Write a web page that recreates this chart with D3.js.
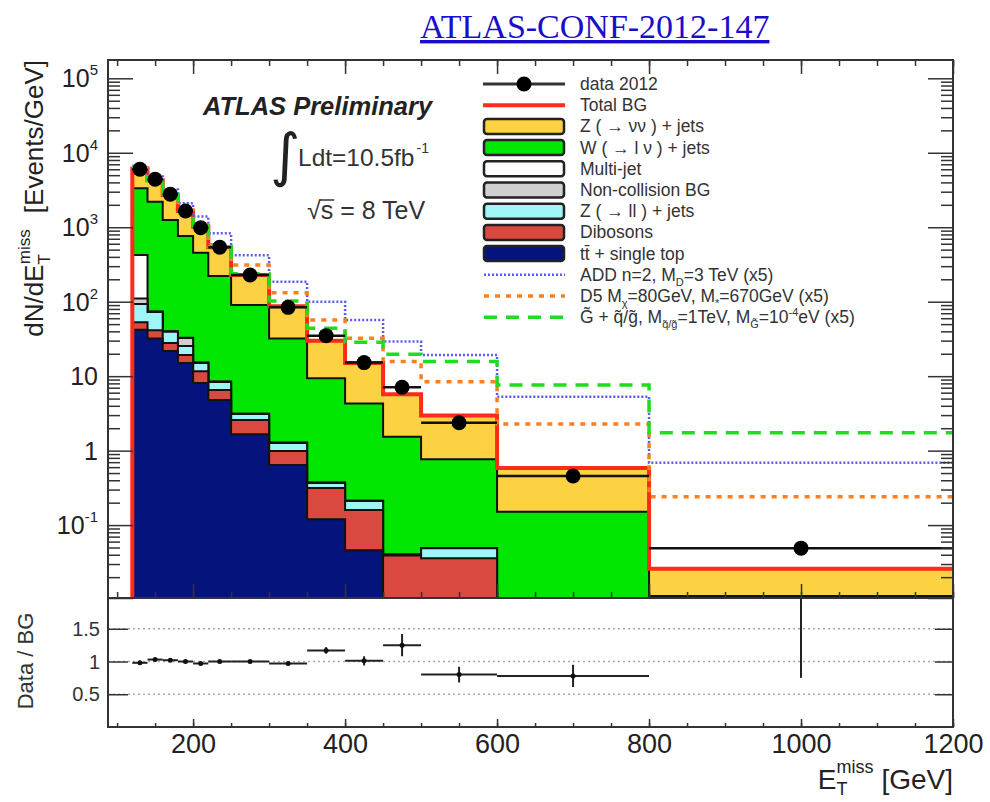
<!DOCTYPE html>
<html>
<head>
<meta charset="utf-8">
<script src="https://cdn.jsdelivr.net/npm/d3@7"></script>
<style>
body { margin: 0; background: #fff; }
svg { display: block; font-family: "Liberation Sans", Arial, sans-serif; }
</style>
</head>
<body>
<svg id="chart" width="990" height="802"></svg>
<script>
// bins in E_T^miss [GeV]
const binEdges = [120, 140, 160, 180, 200, 220, 250, 300, 350, 400, 450, 500, 600, 800, 1200];

// data 2012, events/GeV
const dataValues = [6000, 4400, 2770, 1650, 985, 538, 228, 84, 35, 15.2, 7.1, 2.37, 0.457, 0.049];

// background components (stacked bottom -> top)
const ttbar = [42, 32, 21.8, 15, 8.1, 4.8, 1.66, 0.64, 0.12, 0.046, 0.002, 0.001, 0.001, 0.0005];
const dibosons = [11, 9.5, 6.1, 4.2, 3.5, 1.7, 0.92, 0.35, 0.195, 0.114, 0.037, 0.035, 0.002, 0.0005];
const zll = [40, 31.5, 11.7, 6.2, 3.4, 1.85, 0.52, 0.28, 0.053, 0.051, 0.001, 0.013, 0.001, 0.0005];
const nonCollision = [17, 0.5, 0.2, 7.2, 0.1, 0.05, 0.02, 0.01, 0.002, 0.001, 0.0002, 0.0002, 0.0001, 0.0001];
const multijet = [314, 0.5, 0.2, 0.2, 0.1, 0.05, 0.02, 0.01, 0.002, 0.001, 0.0002, 0.0002, 0.0001, 0.0001];
const wjets = [2916, 2126, 1210, 729, 440, 212.6, 86.9, 30.7, 9.03, 4.09, 1.5, 0.717, 0.147, 0.0095];
const znunu = [2780, 2070, 1465, 888, 560, 317, 138, 55, 20.6, 10.7, 4.16, 2.19, 0.435, 0.0148];

// signal + BG curves (x5)
const addSignal = [6700, 4800, 3200, 2100, 1390, 830, 420, 186, 100, 57, 29.2, 19.2, 5.3, 0.69];
const d5Signal = [6250, 4370, 2800, 1710, 1060, 580, 311, 132, 56.8, 32.3, 15.7, 8.4, 2.28, 0.241];
const gmsbSignal = [6200, 4320, 2760, 1680, 1035, 552, 238, 102, 44, 28.5, 19.7, 15.7, 7.6, 1.74];

// ratio panel
const ratioValues = [0.98, 1.03, 1.02, 1.0, 0.97, 1.0, 1.0, 0.97, 1.17, 1.01, 1.25, 0.8, 0.78, 2.05];
const ratioErrors = [0.01, 0.01, 0.01, 0.01, 0.012, 0.012, 0.015, 0.02, 0.05, 0.07, 0.17, 0.12, 0.17, 1.3];

const xTickLabels = [200, 400, 600, 800, 1000, 1200];
const ratioTicks = [0.5, 1, 1.5];
const logExponents = [-1, 0, 1, 2, 3, 4, 5];

const stackKeys = ["ttbar", "dibosons", "zll", "nonCollision", "multijet", "wjets", "znunu"];
const stackColors = {
    ttbar: "#05137d",
    dibosons: "#d9493f",
    zll: "#a0f6f6",
    nonCollision: "#cfcfcf",
    multijet: "#ffffff",
    wjets: "#00e600",
    znunu: "#fdd242"
};

const svg = d3.select("#chart");
const pLeft = 108, pRight = 953, pTop = 60, pMid = 598, pBottom = 727;

const x = d3.scaleLinear().domain([88, 1200]).range([pLeft, pRight]);
const y = d3.scaleLog().domain([Math.pow(10, -1.979), Math.pow(10, 5.2457)]).range([pMid, pTop]).clamp(true);
const yr = d3.scaleLinear().domain([0, 1.97]).range([pBottom, pMid]);

const rows = binEdges.slice(0, -1).map((lo, i) => ({
    lo: lo,
    hi: binEdges[i + 1],
    ttbar: ttbar[i],
    dibosons: dibosons[i],
    zll: zll[i],
    nonCollision: nonCollision[i],
    multijet: multijet[i],
    wjets: wjets[i],
    znunu: znunu[i]
}));
const series = d3.stack().keys(stackKeys)(rows);
const totalBG = series[series.length - 1].map((d) => d[1]);

// step helpers
const steps = (vals) => {
    const pts = vals.map((v, i) => [binEdges[i], v]);
    pts.push([binEdges[binEdges.length - 1], vals[vals.length - 1]]);
    return pts;
};

const defs = svg.append("defs");
defs.append("clipPath").attr("id", "clipMain").append("rect").
    attr("x", pLeft).attr("y", pTop).attr("width", pRight - pLeft).attr("height", pMid - pTop);
defs.append("clipPath").attr("id", "clipRatio").append("rect").
    attr("x", pLeft).attr("y", pMid).attr("width", pRight - pLeft).attr("height", pBottom - pMid);

// title link
svg.append("text").
    attr("x", 420).attr("y", 38).
    attr("font-family", "'Liberation Serif', 'Times New Roman', serif").
    attr("font-size", 34).
    attr("fill", "#1a0dcc").
    attr("text-decoration", "underline").
    text("ATLAS-CONF-2012-147");

const main = svg.append("g").attr("clip-path", "url(#clipMain)");

// stacked histograms, drawn ROOT style: each cumulative filled from the bottom
const area = d3.area().
    x((d) => x(d[0])).
    y0(pMid).
    y1((d) => y(d[1])).
    curve(d3.curveStepAfter);

for (let k = series.length - 1; k >= 0; k--) {
    const cum = series[k].map((d) => d[1]);
    main.append("path").
        attr("d", area(steps(cum))).
        attr("fill", stackColors[stackKeys[k]]).
        attr("stroke", "#111").
        attr("stroke-width", 2);
}

const line = d3.line().
    x((d) => x(d[0])).
    y((d) => y(d[1])).
    curve(d3.curveStepAfter);

// total BG
const totalPts = steps(totalBG);
totalPts.unshift([binEdges[0], 1e-6]);
main.append("path").
    attr("d", line(totalPts)).
    attr("fill", "none").
    attr("stroke", "#ff2a1a").
    attr("stroke-width", 4);

// signals
const signalStyles = [
    {vals: addSignal, color: "#5c5cf0", dash: "2,2", width: 2.5},
    {vals: d5Signal, color: "#ff7f1e", dash: "5,6", width: 3.5},
    {vals: gmsbSignal, color: "#1fdc1f", dash: "13,9", width: 3.5}
];
signalStyles.forEach((s) => {
    main.append("path").
        attr("d", line(steps(s.vals))).
        attr("fill", "none").
        attr("stroke", s.color).
        attr("stroke-width", s.width).
        attr("stroke-dasharray", s.dash);
});

// data
const dataG = main.append("g");
rows.forEach((r, i) => {
    dataG.append("line").
        attr("x1", x(r.lo)).attr("x2", x(r.hi)).
        attr("y1", y(dataValues[i])).attr("y2", y(dataValues[i])).
        attr("stroke", "#111").attr("stroke-width", 2.5);
    dataG.append("circle").
        attr("cx", x((r.lo + r.hi) / 2)).
        attr("cy", y(dataValues[i])).
        attr("r", 7.5).
        attr("fill", "#000");
});

// ratio panel
const ratio = svg.append("g");
ratioTicks.forEach((t) => {
    ratio.append("line").
        attr("x1", pLeft).attr("x2", pRight).
        attr("y1", yr(t)).attr("y2", yr(t)).
        attr("stroke", "#aaa").attr("stroke-width", 1.5).
        attr("stroke-dasharray", "2,3");
});
const ratioPts = ratio.append("g").attr("clip-path", "url(#clipRatio)");
rows.forEach((r, i) => {
    const cx = x((r.lo + r.hi) / 2);
    ratioPts.append("line").
        attr("x1", x(r.lo)).attr("x2", x(r.hi)).
        attr("y1", yr(ratioValues[i])).attr("y2", yr(ratioValues[i])).
        attr("stroke", "#222").attr("stroke-width", 2);
    ratioPts.append("line").
        attr("x1", cx).attr("x2", cx).
        attr("y1", yr(ratioValues[i] - ratioErrors[i])).
        attr("y2", yr(ratioValues[i] + ratioErrors[i])).
        attr("stroke", "#222").attr("stroke-width", 2);
    ratioPts.append("circle").
        attr("cx", cx).attr("cy", yr(ratioValues[i])).
        attr("r", 2.5).attr("fill", "#111");
});

// axes (ticks inward)
const minorX = d3.range(100, 1201, 50);
const styleAxis = (g) => {
    g.select(".domain").remove();
    g.selectAll(".tick line").attr("stroke", "#333").attr("stroke-width", 1.5);
};
svg.append("g").attr("transform", `translate(0,${pMid})`).
    call(d3.axisBottom(x).tickValues(minorX).tickSize(-6).tickFormat("")).call(styleAxis);
svg.append("g").attr("transform", `translate(0,${pMid})`).
    call(d3.axisBottom(x).tickValues(xTickLabels).tickSize(-14).tickFormat("")).call(styleAxis);
svg.append("g").attr("transform", `translate(0,${pTop})`).
    call(d3.axisTop(x).tickValues(minorX).tickSize(-6).tickFormat("")).call(styleAxis);
svg.append("g").attr("transform", `translate(0,${pTop})`).
    call(d3.axisTop(x).tickValues(xTickLabels).tickSize(-14).tickFormat("")).call(styleAxis);
svg.append("g").attr("transform", `translate(0,${pBottom})`).
    call(d3.axisBottom(x).tickValues(minorX).tickSize(-4).tickFormat("")).call(styleAxis);
svg.append("g").attr("transform", `translate(0,${pBottom})`).
    call(d3.axisBottom(x).tickValues(xTickLabels).tickSize(-8).tickFormat("")).call(styleAxis);
svg.append("g").attr("transform", `translate(0,${pBottom})`).
    call(d3.axisBottom(x).tickValues(xTickLabels).tickSize(0).tickPadding(7).tickFormat(d3.format("d"))).
    call((g) => {
        g.select(".domain").remove();
        g.selectAll("text").attr("font-size", 27).attr("fill", "#222").
            attr("font-family", "'Liberation Sans', Arial, sans-serif");
    });

const majorY = logExponents.map((e) => Math.pow(10, e)).concat([1e-2]);
const minorY = [];
for (let e = -2; e <= 5; e++) {
    for (let m = 2; m <= 9; m++) {
        const v = m * Math.pow(10, e);
        if (v < y.domain()[1]) minorY.push(v);
    }
}
svg.append("g").attr("transform", `translate(${pLeft},0)`).
    call(d3.axisLeft(y).tickValues(minorY).tickSize(-12).tickFormat("")).call(styleAxis);
svg.append("g").attr("transform", `translate(${pLeft},0)`).
    call(d3.axisLeft(y).tickValues(majorY).tickSize(-25).tickFormat("")).call(styleAxis);
svg.append("g").attr("transform", `translate(${pRight},0)`).
    call(d3.axisRight(y).tickValues(minorY).tickSize(-12).tickFormat("")).call(styleAxis);
svg.append("g").attr("transform", `translate(${pRight},0)`).
    call(d3.axisRight(y).tickValues(majorY).tickSize(-25).tickFormat("")).call(styleAxis);
svg.append("g").attr("transform", `translate(${pLeft},0)`).
    call(d3.axisLeft(yr).tickValues(ratioTicks).tickSize(-20).tickFormat("")).call(styleAxis);
svg.append("g").attr("transform", `translate(${pRight},0)`).
    call(d3.axisRight(yr).tickValues(ratioTicks).tickSize(-18).tickFormat("")).call(styleAxis);

// y tick labels, main panel
logExponents.forEach((e) => {
    const t = svg.append("text").
        attr("x", 98).attr("y", y(Math.pow(10, e)) + 9).
        attr("text-anchor", "end").
        attr("font-size", 25).attr("fill", "#222");
    if (e === 0) {
        t.text("1");
    } else if (e === 1) {
        t.text("10");
    } else {
        t.append("tspan").text("10");
        t.append("tspan").attr("dy", -12).attr("font-size", 15).text(e);
    }
});
// ratio tick labels
ratioTicks.forEach((v) => {
    svg.append("text").
        attr("x", 100).attr("y", yr(v) + 7).
        attr("text-anchor", "end").
        attr("font-size", 20).attr("fill", "#333").
        text(v);
});

// frames
svg.append("rect").attr("x", pLeft).attr("y", pTop).attr("width", pRight - pLeft).attr("height", pMid - pTop).
    attr("fill", "none").attr("stroke", "#333").attr("stroke-width", 2);
svg.append("rect").attr("x", pLeft).attr("y", pMid).attr("width", pRight - pLeft).attr("height", pBottom - pMid).
    attr("fill", "none").attr("stroke", "#333").attr("stroke-width", 2);

// axis titles
const yTitle = svg.append("text").
    attr("transform", `translate(43,${pTop}) rotate(-90)`).
    attr("text-anchor", "end").
    attr("font-size", 26).attr("fill", "#222");
yTitle.append("tspan").text("dN/dE");
yTitle.append("tspan").attr("dy", 7).attr("font-size", 17).text("T");
yTitle.append("tspan").attr("dx", -10).attr("dy", -20).attr("font-size", 17).text("miss");
yTitle.append("tspan").attr("dx", 16).attr("dy", 13).text("[Events/GeV]");

const xTitle = svg.append("text").
    attr("x", pRight).attr("y", 789).
    attr("text-anchor", "end").
    attr("font-size", 28).attr("fill", "#222");
xTitle.append("tspan").text("E");
xTitle.append("tspan").attr("dy", 6).attr("font-size", 18).text("T");
xTitle.append("tspan").attr("dx", -11).attr("dy", -22).attr("font-size", 18).text("miss");
xTitle.append("tspan").attr("dx", 8).attr("dy", 16).text("[GeV]");

svg.append("text").
    attr("transform", "translate(33,661) rotate(-90)").
    attr("text-anchor", "middle").
    attr("font-size", 22).attr("fill", "#333").
    text("Data / BG");

// annotations
svg.append("text").
    attr("x", 203).attr("y", 115).
    attr("font-size", 25.5).attr("font-weight", "bold").attr("font-style", "italic").
    attr("fill", "#222").
    text("ATLAS Preliminary");
svg.append("text").
    attr("x", 270).attr("y", 175).
    attr("font-family", "'DejaVu Sans', sans-serif").
    attr("font-size", 58).attr("fill", "#222").
    text("\u222B");
const lumi = svg.append("text").
    attr("x", 298).attr("y", 166).
    attr("font-size", 24.5).attr("fill", "#333");
lumi.append("tspan").text("Ldt=10.5fb");
lumi.append("tspan").attr("dx", 2).attr("dy", -13).attr("font-size", 14).text("-1");
const rts = svg.append("text").
    attr("x", 307).attr("y", 219).
    attr("font-size", 25).attr("fill", "#333");
rts.append("tspan").text("\u221As = 8 TeV");
const rootW = rts.node().getSubStringLength(0, 1);
const sW = rts.node().getSubStringLength(1, 1);
svg.append("line").
    attr("x1", 307 + rootW - 1).attr("x2", 307 + rootW + sW + 1).
    attr("y1", 200).attr("y2", 200).
    attr("stroke", "#333").attr("stroke-width", 1.5);

// legend
const legendRows = [
    {kind: "data", label: "data 2012"},
    {kind: "line", color: "#ff2a1a", width: 4, label: "Total BG"},
    {kind: "box", color: stackColors.znunu, label: "Z ( \u2192 \u03BD\u03BD ) + jets"},
    {kind: "box", color: stackColors.wjets, label: "W ( \u2192 l \u03BD ) + jets"},
    {kind: "box", color: stackColors.multijet, label: "Multi-jet"},
    {kind: "box", color: stackColors.nonCollision, label: "Non-collision BG"},
    {kind: "box", color: stackColors.zll, label: "Z ( \u2192 ll ) + jets"},
    {kind: "box", color: stackColors.dibosons, label: "Dibosons"},
    {kind: "box", color: stackColors.ttbar, label: "tt\u0304 + single top"},
    {kind: "dash", style: signalStyles[0], label: [["ADD n=2, M"], ["D", "sub"], ["=3 TeV (x5)"]]},
    {kind: "dash", style: signalStyles[1], label: [["D5 M"], ["\u03C7", "sub"], ["=80GeV, M"], ["*", "sub"], ["=670GeV (x5)"]]},
    {kind: "dash", style: signalStyles[2], label: [["G\u0303 + q\u0303/g\u0303, M"], ["q\u0303/g\u0303", "sub"], ["=1TeV, M"], ["G\u0303", "sub"], ["=10"], ["-4", "sup"], ["eV (x5)"]]}
];
const legend = svg.append("g");
legendRows.forEach((row, i) => {
    const cy = 84 + i * 21.2;
    if (row.kind === "data") {
        legend.append("line").attr("x1", 483).attr("x2", 565).attr("y1", cy).attr("y2", cy).
            attr("stroke", "#333").attr("stroke-width", 3);
        legend.append("circle").attr("cx", 524).attr("cy", cy).attr("r", 7.5).attr("fill", "#000");
    } else if (row.kind === "line") {
        legend.append("line").attr("x1", 483).attr("x2", 565).attr("y1", cy).attr("y2", cy).
            attr("stroke", row.color).attr("stroke-width", row.width);
    } else if (row.kind === "box") {
        legend.append("rect").attr("x", 484).attr("y", cy - 7.5).attr("width", 80).attr("height", 15).
            attr("rx", 3).attr("fill", row.color).attr("stroke", "#222").attr("stroke-width", 2.5);
    } else {
        legend.append("line").attr("x1", 484).attr("x2", 565).attr("y1", cy).attr("y2", cy).
            attr("stroke", row.style.color).attr("stroke-width", row.style.width).
            attr("stroke-dasharray", row.style.dash);
    }
    const t = legend.append("text").
        attr("x", 580).attr("y", cy + 6).
        attr("font-size", 17.5).attr("fill", "#333");
    if (typeof row.label === "string") {
        t.text(row.label);
    } else {
        let shift = 0;
        row.label.forEach(([txt, mode]) => {
            let dy = 0;
            let fs = 17.5;
            if (mode === "sub") { dy = 5 - shift; shift = 5; fs = 11; }
            else if (mode === "sup") { dy = -7 - shift; shift = -7; fs = 11; }
            else { dy = -shift; shift = 0; }
            t.append("tspan").attr("dy", dy).attr("font-size", fs).text(txt);
        });
    }
});
</script>
</body>
</html>
